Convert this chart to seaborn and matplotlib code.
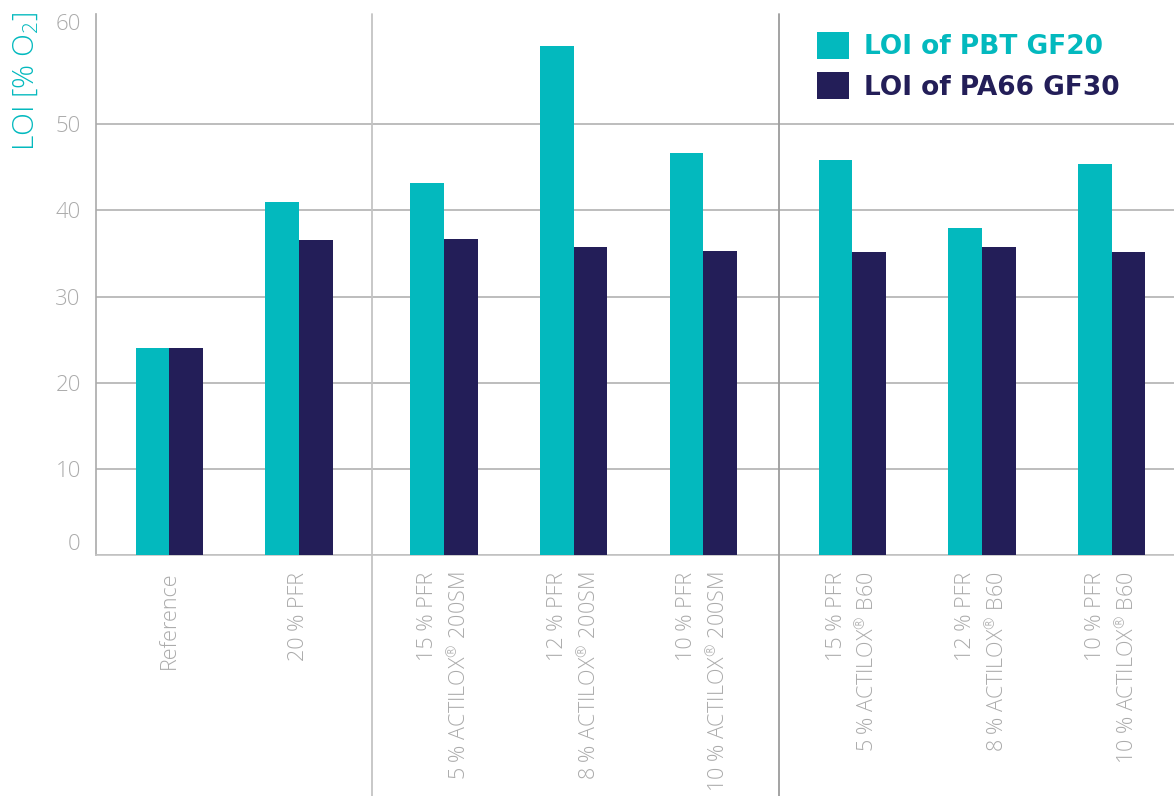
import matplotlib
matplotlib.use("Agg")
import matplotlib.pyplot as plt
from matplotlib.lines import Line2D
import seaborn as sns
import pandas as pd

# ---- data ----
categories = [
    "Reference",
    "20 % PFR",
    "15 % PFR\n5 % ACTILOX$^{®}$ 200SM",
    "12 % PFR\n8 % ACTILOX$^{®}$ 200SM",
    "10 % PFR\n10 % ACTILOX$^{®}$ 200SM",
    "15 % PFR\n5 % ACTILOX$^{®}$ B60",
    "12 % PFR\n8 % ACTILOX$^{®}$ B60",
    "10 % PFR\n10 % ACTILOX$^{®}$ B60",
]
panel_of_category = [0, 0, 1, 1, 1, 2, 2, 2]
series_names = ["LOI of PBT GF20", "LOI of PA66 GF30"]
pbt_gf20 = [24.0, 41.0, 43.2, 59.1, 46.7, 45.9, 38.0, 45.4]
pa66_gf30 = [24.0, 36.6, 36.7, 35.8, 35.3, 35.2, 35.7, 35.2]
y_tick_values = [0, 10, 20, 30, 40, 50]
y_tick_labels = ["0", "10", "20", "30", "40", "50", "60"]
y_label = "LOI [% O$_2$]"

# ---- styles ----
TEAL = "#03B9BE"
NAVY = "#231E58"
GRID = "#b8b8b8"
TICKC = "#ababab"
Y_TOP = 62.8
THIN_FAM = ["Open Sans", "DejaVu Sans"]

sns.set_theme(style="white")
plt.rcParams["font.family"] = THIN_FAM
plt.rcParams["mathtext.fontset"] = "custom"
plt.rcParams["mathtext.rm"] = "Open Sans:light"
plt.rcParams["mathtext.default"] = "rm"

rows = []
for i, c in enumerate(categories):
    rows.append(dict(category=c, series=series_names[0], value=pbt_gf20[i], panel=panel_of_category[i]))
    rows.append(dict(category=c, series=series_names[1], value=pa66_gf30[i], panel=panel_of_category[i]))
df = pd.DataFrame(rows)

fig = plt.figure(figsize=(11.74, 7.96), dpi=100)
xlims = [(-0.565, 1.565), (-0.555, 2.58), (-0.57, 2.48)]
ratios = [b - a for a, b in xlims]
gs = fig.add_gridspec(1, 3, width_ratios=ratios, left=96 / 1174, right=1.0,
                      bottom=1 - 555 / 796, top=1 - 14 / 796, wspace=0)
axes = [fig.add_subplot(gs[0, k]) for k in range(3)]

for k, ax in enumerate(axes):
    sub = df[df["panel"] == k]
    sns.barplot(data=sub, x="category", y="value", hue="series",
                hue_order=series_names, palette=[TEAL, NAVY], saturation=1,
                width=0.52, ax=ax, legend=(k == 2), zorder=3, linewidth=0)
    ax.set_xlim(*xlims[k])
    ax.set_ylim(0, Y_TOP)
    ax.set_xlabel("")
    ax.set_ylabel("")
    for s in ["top", "right", "left"]:
        ax.spines[s].set_visible(False)
    ax.spines["bottom"].set_color("#c4c4c4")
    ax.spines["bottom"].set_linewidth(1.2)
    ax.tick_params(axis="x", length=0, pad=12)
    ax.tick_params(axis="y", length=0)
    for lab in ax.get_xticklabels():
        lab.set_rotation(90)
        lab.set_ha("center")
        lab.set_va("top")
        lab.set_multialignment("right")
        lab.set_linespacing(1.5)
        lab.set_color(TICKC)
        lab.set_fontsize(15.5)
        lab.set_fontfamily(THIN_FAM)
        lab.set_fontweight("light")
    if k == 0:
        ax.set_yticks(y_tick_values + [Y_TOP])
        ax.set_yticklabels(y_tick_labels, color=TICKC, fontsize=16,
                           fontweight="light", family=THIN_FAM)
        ax.tick_params(axis="y", pad=11)
        ax.get_yticklabels()[0].set_va("bottom")
        ax.get_yticklabels()[-1].set_va("top")
        ax.spines["left"].set_visible(True)
        ax.spines["left"].set_color("#aaaaaa")
        ax.spines["left"].set_linewidth(1.2)
    else:
        ax.set_yticks(y_tick_values)
        ax.set_yticklabels([])
    ax.yaxis.grid(True, color=GRID, linewidth=1.3, zorder=0)
    ax.set_axisbelow(True)
    if k == 0:
        ax.get_ygridlines()[-1].set_visible(False)

# y label
ax0 = axes[0]
ax0.set_ylabel(y_label, loc="top", color=TEAL, fontsize=21.5,
               fontweight="light", family=THIN_FAM)
ax0.yaxis.set_label_coords(-0.2, 1.005)

# legend
ax2 = axes[2]
handles, labels = ax2.get_legend_handles_labels()
leg = ax2.legend(handles, labels, loc="upper left",
                 bbox_to_anchor=(817 / 1174, 1 - 32 / 796),
                 bbox_transform=fig.transFigure, frameon=False,
                 prop=dict(family="DejaVu Sans", weight="bold", size=19),
                 handlelength=1.2, handleheight=1.2, handletextpad=0.58,
                 labelspacing=0.45, borderpad=0, borderaxespad=0)
for txt, col in zip(leg.get_texts(), [TEAL, NAVY]):
    txt.set_color(col)

# panel separators extending through tick label area
for ax, col in zip(axes[1:], ["#c4c4c4", "#9c9c9c"]):
    pos = ax.get_position()
    fig.add_artist(Line2D([pos.x0, pos.x0], [0, pos.y1], transform=fig.transFigure,
                          color=col, linewidth=1.3))

fig.savefig("out.png", dpi=100)
